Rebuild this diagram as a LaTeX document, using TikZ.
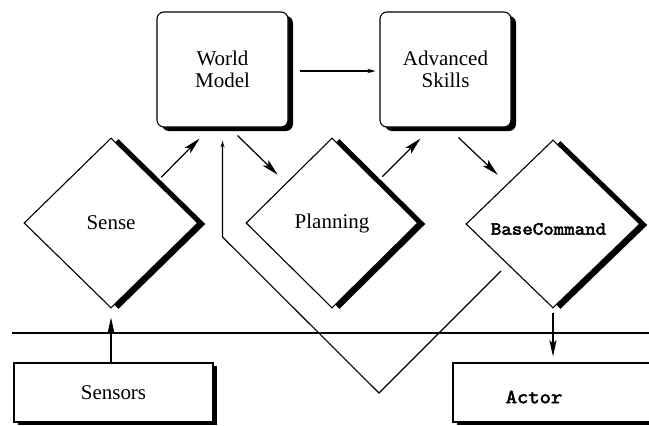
\documentclass[tikz,border=0pt]{standalone}
\usepackage{fontspec}
\setmainfont{Liberation Serif}
\newfontfamily\slabmono[FakeBold=3,FakeStretch=1.1]{Latin Modern Mono}
\usetikzlibrary{shapes.geometric,shadows,arrows.meta}
\begin{document}
\begin{tikzpicture}[x=1pt,y=-1pt,
  serif/.style={font=\fontsize{21}{22}\selectfont, align=center},
  monotxt/.style={font=\slabmono\fontsize{18.5}{20}\selectfont, inner sep=0pt},
  roundbox/.style={draw, line width=1.1pt, rounded corners=7pt, fill=white,
    minimum width=131pt, minimum height=115pt, inner sep=0pt, serif,
    drop shadow={shadow xshift=5pt, shadow yshift=-4pt, opacity=1, fill=black}},
  plainbox/.style={draw, line width=1.1pt, fill=white, inner sep=0pt,
    minimum height=59pt, serif,
    drop shadow={shadow xshift=4pt, shadow yshift=-3pt, opacity=1, fill=black}},
  dia/.style={diamond, draw, line width=1.1pt, fill=white, inner sep=0pt,
    aspect=1, minimum width=174pt, minimum height=170pt, serif,
    drop shadow={shadow xshift=7.5pt, shadow yshift=-1pt, opacity=1, fill=black}},
  flow/.style={line width=1.2pt, -{Stealth[length=17pt,width=8pt,inset=4pt]}},
  thickflow/.style={line width=1.8pt, -{Stealth[length=16pt,width=7pt,inset=3pt]}},
  smallflow/.style={line width=1.1pt, -{Stealth[length=8pt,width=4.5pt]}},
  busline/.style={line width=1.6pt},
  fbline/.style={line width=1.1pt, -{Stealth[length=7pt,width=4pt]}}
]
\useasboundingbox (0,0) rectangle (649,426);

% boxes
\node[roundbox] (wm) at (222.5,69.5) {World\\Model};
\node[roundbox] (as) at (445.5,69.5) {Advanced\\Skills};

% diamonds
\node[dia] (sense) at (111,223) {Sense};
\node[dia, minimum width=172pt] (plan) at (332,223) {Planning};
\node[dia, minimum height=168pt] (bc) at (553,224) {};
\node[monotxt] (bctxt) at (548.5,229) {BaseCommand};

% bottom boxes
\node[plainbox, minimum width=199pt] (sensors) at (113.5,392.5) {Sensors};
\node[plainbox, minimum width=207pt] (actor) at (556.5,392.5) {};
\node[monotxt, font=\slabmono\fontsize{20}{20}\selectfont] (actortxt) at (534,397) {Actor};

% bus line
\coordinate (busL) at (12,333);
\coordinate (busR) at (649,333);
\draw[busline] (busL) -- (busR);

% connectors
\draw[smallflow] ([shift={(11,1.5)}]wm.east) -- ([shift={(-4,1.5)}]as.west);
\draw[flow] ([shift={(6.5,-3)}]sense.north east) -- ([shift={(43,11)}]wm.south west);
\draw[flow] ([shift={(81,8)}]wm.south west) -- ([shift={(-11,-5.5)}]plan.north west);
\draw[flow] ([shift={(7,-3.5)}]plan.north east) -- ([shift={(41,11)}]as.south west);
\draw[flow] ([shift={(79,10)}]as.south west) -- ([shift={(-11.5,-7)}]bc.north west);

\draw[thickflow, shorten >=9pt] (sense.south |- sensors.north) -- (sense.south);
\draw[thickflow, shorten <=4pt, shorten >=6pt] (bc.south) -- (bc.south |- actor.north);

% feedback loop
\coordinate (fbstart) at (501,271);
\coordinate (fbapex) at (379,393);
\coordinate (fbbend) at (222.5,237);
\draw[fbline] (fbstart) -- (fbapex) -- (fbbend) -- ([shift={(0,13)}]wm.south);
\end{tikzpicture}
\end{document}
